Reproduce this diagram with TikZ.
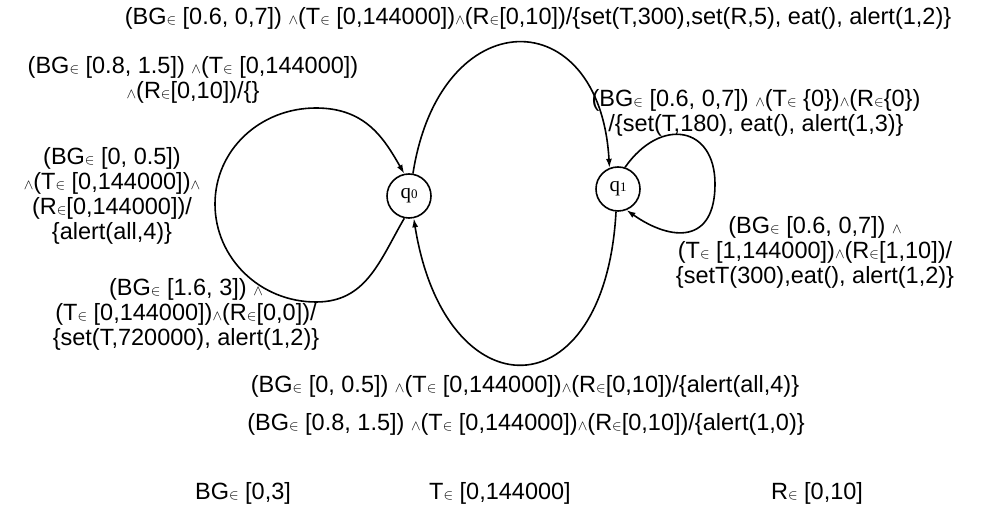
\documentclass[tikz,border=0pt]{standalone}
\usepackage{fontspec}
\setmainfont{Liberation Sans}
\newfontfamily\qfont{Liberation Serif}
\usetikzlibrary{arrows.meta}
\newcommand\myin{{\fontsize{15}{15}\selectfont$\in$}}
\newcommand\myand{{\fontsize{15}{15}\selectfont$\wedge$}}
\newcommand\qsub[1]{q{\fontsize{13}{13}\selectfont #1}}
\begin{document}
\begin{tikzpicture}[x=1pt,y=1pt,
  lbl/.style={font=\fontsize{23.5}{25}\selectfont, align=center, inner sep=0pt},
  state/.style={circle, draw, line width=1.6pt, minimum size=44pt, inner sep=0pt, font=\qfont\fontsize{21}{21}\selectfont},
  edge/.style={line width=1.6pt, -{Latex[length=9pt,width=6pt]}}]
\useasboundingbox (0,0) rectangle (987,514);
\node[state] (q0) at (409,318) {\qsub{0}};
\node[state] (q1) at (618,325) {\qsub{1}};
\coordinate (B0) at (316,212);
\coordinate (L0) at (215,310);
\coordinate (T0) at (316,406);
\coordinate (R1) at (715,330);
% edges
\draw[edge] (q0.258) to[out=240,in=0,out distance=50,in distance=50] (B0) to[out=180,in=270,out distance=56,in distance=54] (L0)
  to[out=90,in=180,out distance=54,in distance=56] (T0) to[out=0,in=120,out distance=50,in distance=40] (q0.102);
\draw[edge] (q0.80) .. controls (440,514) and (600,514) .. (q1.112);
\draw[edge] (q1.265) .. controls (605,100) and (445,100) .. (q0.282);
\draw[edge] (q1.72) to[out=55,in=90,out distance=62,in distance=58] (R1)
  to[out=270,in=-35,out distance=60,in distance=55] (q1.-68);
% labels
\node[lbl] (ltop) at (538,496) {(BG\myin\ [0.6, 0,7]) \myand(T\myin\ [0,144000])\myand(R\myin[0,10])/\{set(T,300),set(R,5), eat(), alert(1,2)\}};
\node[lbl] (la) at (193,434) {(BG\myin\ [0.8, 1.5]) \myand(T\myin\ [0,144000])\\\myand(R\myin[0,10])/\{\}};
\node[lbl] (ll) at (112,318) {(BG\myin\ [0, 0.5])\\\myand(T\myin\ [0,144000])\myand\\(R\myin[0,144000])/\\\{alert(all,4)\}};
\node[lbl] (lq1) at (756,401) {(BG\myin\ [0.6, 0,7]) \myand(T\myin\ \{0\})\myand(R\myin\{0\})\\/\{set(T,180), eat(), alert(1,3)\}};
\node[lbl] (lbl1) at (186,200) {(BG\myin\ [1.6, 3]) \myand\\(T\myin\ [0,144000])\myand(R\myin[0,0])/\\\{set(T,720000), alert(1,2)\}};
\node[lbl] (lbr) at (815,262) {(BG\myin\ [0.6, 0,7]) \myand\\(T\myin\ [1,144000])\myand(R\myin[1,10])/\\\{setT(300),eat(), alert(1,2)\}};
\node[lbl] (lb1) at (525,128) {(BG\myin\ [0, 0.5]) \myand(T\myin\ [0,144000])\myand(R\myin[0,10])/\{alert(all,4)\}};
\node[lbl] (lb2) at (526,90) {(BG\myin\ [0.8, 1.5]) \myand(T\myin\ [0,144000])\myand(R\myin[0,10])/\{alert(1,0)\}};
\node[lbl] (vbg) at (243,21) {BG\myin\ [0,3]};
\node[lbl] (vt) at (500,21) {T\myin\ [0,144000]};
\node[lbl] (vr) at (817,21) {R\myin\ [0,10]};
\end{tikzpicture}
\end{document}
